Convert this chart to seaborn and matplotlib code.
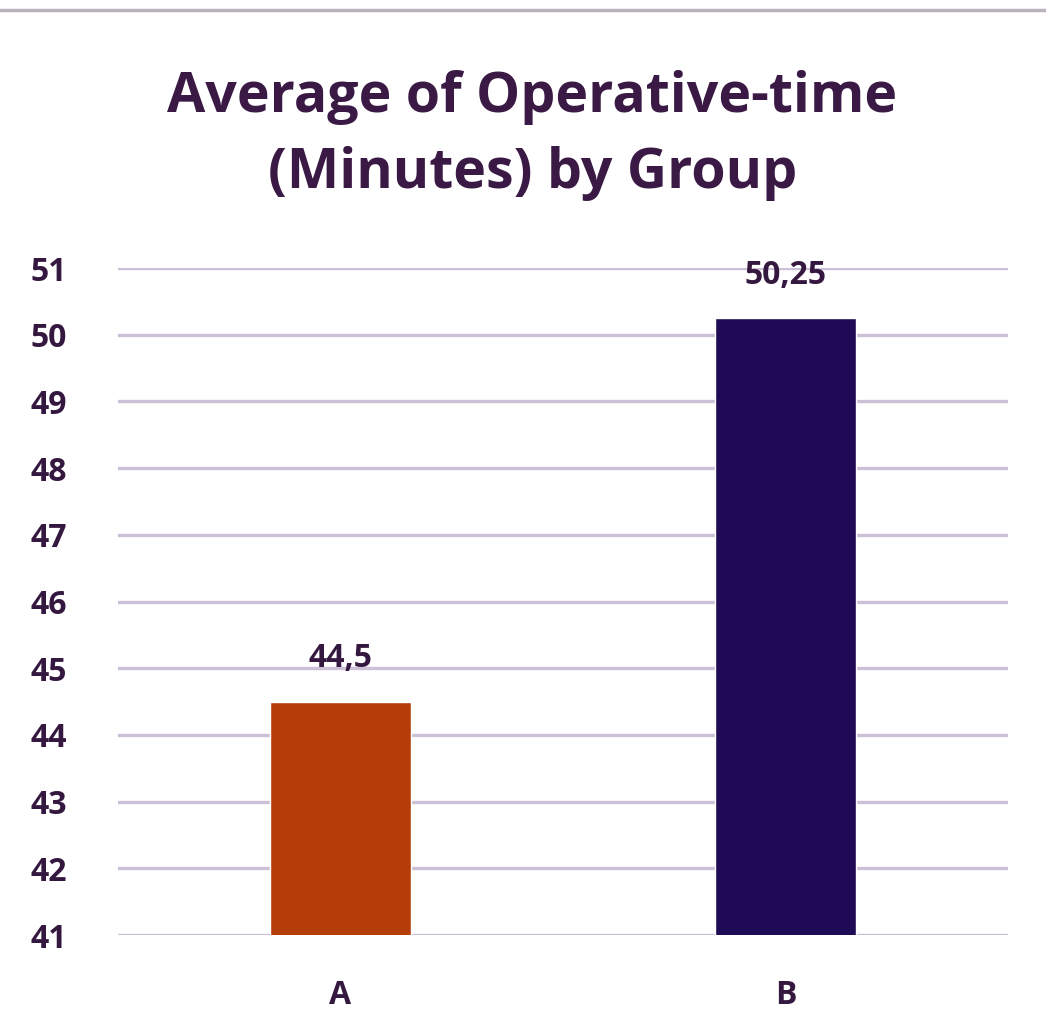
import matplotlib
matplotlib.use("Agg")
import matplotlib.pyplot as plt
from matplotlib.lines import Line2D
import seaborn as sns
import pandas as pd

groups = ["A", "B"]
values = [44.5, 50.25]
value_labels = ["44,5", "50,25"]
colors = ["#B53D0A", "#1F0B55"]
yticks = [41, 42, 43, 44, 45, 46, 47, 48, 49, 50, 51]

sns.set_theme(style="white")
plt.rcParams['font.family'] = ['Open Sans', 'DejaVu Sans']

text_color = "#35183F"

df = pd.DataFrame({"group": groups, "value": values})

fig = plt.figure(figsize=(10.46, 10.34), dpi=100)
ax = fig.add_axes([0.1128, 0.0957, 0.8509, 0.6451])

sns.barplot(data=df, x="group", y="value", hue="group", palette=colors,
            width=0.315, ax=ax, legend=False, saturation=1, zorder=3)

ax.set_ylim(41, 51)
ax.set_xlim(-0.5, 1.5)
ax.set_yticks(yticks)
ax.set_yticklabels([str(t) for t in yticks])
ax.yaxis.grid(True, color="#CBC0D6", linewidth=2.4, zorder=0)
ax.set_axisbelow(True)
for s in ax.spines.values():
    s.set_visible(False)
ax.set_xlabel("")
ax.set_ylabel("")
ax.tick_params(axis="y", length=0, pad=63, labelsize=23, labelcolor=text_color)
ax.tick_params(axis="x", length=0, pad=32, labelsize=23, labelcolor=text_color)
for lbl in ax.get_yticklabels() + ax.get_xticklabels():
    lbl.set_fontweight("bold")
for lbl in ax.get_yticklabels():
    lbl.set_horizontalalignment("left")

for i, (v, t) in enumerate(zip(values, value_labels)):
    ax.annotate(t, (i, v), xytext=(0, 19), textcoords="offset points",
                ha="center", va="bottom", fontsize=23, fontweight="bold",
                color=text_color)

fig.text(0.509, 0.869, "Average of Operative-time\n(Minutes) by Group",
         ha="center", va="center", fontsize=40, fontweight="bold",
         color="#3A1A45", linespacing=1.5)

fig.add_artist(Line2D([0, 1], [0.99, 0.99], transform=fig.transFigure,
                      color="#B8B2BE", linewidth=2.5))

fig.savefig("out.png", dpi=100, facecolor="white")
